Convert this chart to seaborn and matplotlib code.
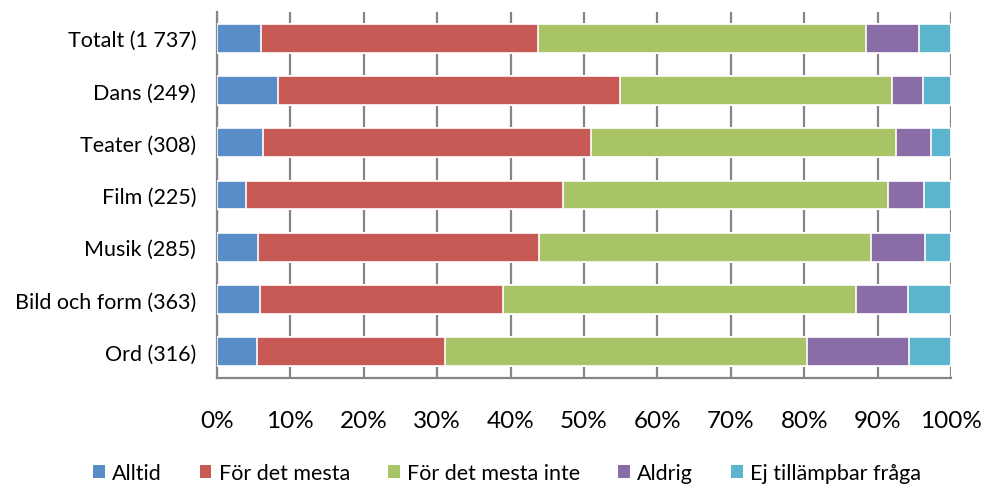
import numpy as np
import pandas as pd
import seaborn as sns
from matplotlib import pyplot as plt
from matplotlib.patches import Patch

categories = ["Totalt (1 737)", "Dans (249)", "Teater (308)", "Film (225)",
              "Musik (285)", "Bild och form (363)", "Ord (316)"]
responses = ["Alltid", "För det mesta", "För det mesta inte", "Aldrig",
             "Ej tillämpbar fråga"]

alltid = [6.0, 8.3, 6.2, 4.0, 5.6, 5.9, 5.5]
mesta = [37.8, 46.6, 44.8, 43.1, 38.3, 33.0, 25.6]
mesta_inte = [44.6, 37.1, 41.5, 44.3, 45.2, 48.2, 49.3]
aldrig = [7.3, 4.2, 4.8, 4.9, 7.4, 7.0, 13.9]
ej = [4.3, 3.8, 2.7, 3.7, 3.5, 5.9, 5.7]

colors = ["#588DC8", "#C75A55", "#A9C466", "#8A6DA7", "#5BB5CD"]

series = np.array([alltid, mesta, mesta_inte, aldrig, ej])
cum = np.cumsum(series, axis=0)
cum = cum / cum[-1:] * 100  # normalise to 100 %

sns.set_style("white")
plt.rcParams["font.family"] = ["Lato", "DejaVu Sans"]
plt.rcParams["text.color"] = "black"

fig = plt.figure(figsize=(9.83, 4.85), dpi=100)
ax = fig.add_axes([217 / 983, 1 - 379 / 485, (951 - 217) / 983, (379 - 13) / 485])

# draw cumulative bars from the widest down so each one covers the last
for i in range(len(responses) - 1, -1, -1):
    df = pd.DataFrame({"Kategori": categories, "Andel": cum[i]})
    sns.barplot(data=df, x="Andel", y="Kategori", color=colors[i], width=0.55,
                edgecolor="white", linewidth=1.2, saturation=1, ax=ax, zorder=3)

ax.set_xlim(0, 100)
ax.set_xticks(np.arange(0, 101, 10))
ax.set_xticklabels([f"{v}%" for v in range(0, 101, 10)], fontsize=17.5)
ax.tick_params(axis="x", length=0, pad=23, labelcolor="black")
ax.tick_params(axis="y", length=0, pad=15, labelsize=15.5, labelcolor="black")
ax.set_xlabel("")
ax.set_ylabel("")
ax.grid(axis="x", color="#858585", linewidth=1.6, zorder=0)
ax.set_axisbelow(True)
for side in ["top", "right"]:
    ax.spines[side].set_visible(False)
for side in ["left", "bottom"]:
    ax.spines[side].set_color("#858585")
    ax.spines[side].set_linewidth(1.6)

handles = [Patch(facecolor=c, edgecolor="none") for c in colors]
fig.legend(handles, responses, loc="center", bbox_to_anchor=(507 / 983, 1 - 474 / 485),
           ncol=5, frameon=False, fontsize=15.5, handlelength=0.55, handleheight=0.55,
           handletextpad=0.35, columnspacing=1.75)

fig.savefig("out.png", dpi=100)
